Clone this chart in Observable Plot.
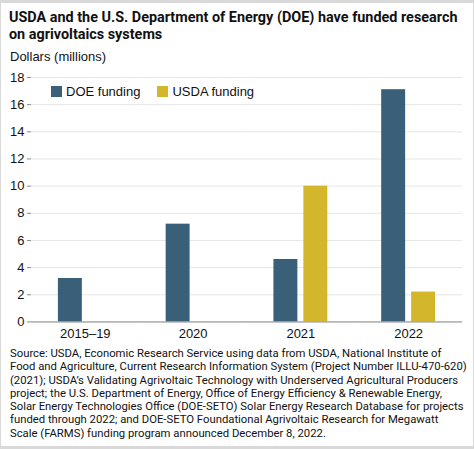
<!DOCTYPE html>
<html>
<head>
<meta charset="utf-8">
<script src="https://cdn.jsdelivr.net/npm/d3@7"></script>
<script src="https://cdn.jsdelivr.net/npm/@observablehq/plot@0.6"></script>
<style>
  html, body { margin: 0; padding: 0; background: #d9d9d9; }
  #frame { position: absolute; left: 1px; top: 3px; width: 472px; height: 443px; background: #fff; overflow: hidden; font-family: "Liberation Sans", Arial, sans-serif; color: #111; }
  #title { position: absolute; left: 8px; top: 6px; font-family: Roboto, sans-serif; font-weight: bold; font-size: 14.4px; line-height: 17px; white-space: nowrap; }
  #subtitle { position: absolute; left: 9px; top: 46px; font-size: 13px; }
  #chart { position: absolute; left: -1px; top: 61px; }
  #legend { position: absolute; left: 50px; top: 81px; font-size: 13px; display: flex; align-items: center; }
  #legend .sw { display: inline-block; width: 11px; height: 11px; margin-right: 4px; }
  #legend .item { display: flex; align-items: center; margin-right: 17px; }
  #caption { position: absolute; left: 9px; top: 344px; font-family: Roboto, sans-serif; font-size: 11.3px; line-height: 13.3px; white-space: nowrap; }
</style>
</head>
<body>
<div id="frame">
  <div id="title"></div>
  <div id="subtitle"></div>
  <div id="chart"></div>
  <div id="legend"></div>
  <div id="caption"></div>
</div>
<script>
const titleLines = [
  "USDA and the U.S. Department of Energy (DOE) have funded research",
  "on agrivoltaics systems"
];
const subtitleText = "Dollars (millions)";
const captionLines = [
  "Source: USDA, Economic Research Service using data from USDA, National Institute of",
  "Food and Agriculture, Current Research Information System (Project Number ILLU-470-620)",
  "(2021); USDA\u2019s Validating Agrivoltaic Technology with Underserved Agricultural Producers",
  "project; the U.S. Department of Energy, Office of Energy Efficiency & Renewable Energy,",
  "Solar Energy Technologies Office (DOE-SETO) Solar Energy Research Database for projects",
  "funded through 2022; and DOE-SETO Foundational Agrivoltaic Research for Megawatt",
  "Scale (FARMS) funding program announced December 8, 2022."
];

const periods = ["2015\u201319", "2020", "2021", "2022"];
const series = ["DOE funding", "USDA funding"];
const colors = ["#3a5f78", "#d4b62c"];
const doeValues = [3.2, 7.2, 4.6, 17.1];
const usdaValues = [0, 0, 10.0, 2.2];
const yTicks = [0, 2, 4, 6, 8, 10, 12, 14, 16, 18];

const data = [];
periods.forEach((p, i) => {
  data.push({period: p, series: series[0], value: doeValues[i]});
  data.push({period: p, series: series[1], value: usdaValues[i]});
});

function fillLines(id, lines) {
  const el = document.getElementById(id);
  lines.forEach(l => {
    const d = document.createElement("div");
    d.textContent = l;
    el.appendChild(d);
  });
}
fillLines("title", titleLines);
document.getElementById("subtitle").textContent = subtitleText;
fillLines("caption", captionLines);

const legend = document.getElementById("legend");
series.forEach((s, i) => {
  const item = document.createElement("span");
  item.className = "item";
  const sw = document.createElement("span");
  sw.className = "sw";
  sw.style.background = colors[i];
  item.appendChild(sw);
  item.appendChild(document.createTextNode(s));
  legend.appendChild(item);
});

const chart = Plot.plot({
  width: 474,
  height: 284,
  marginLeft: 29,
  marginRight: 10,
  marginTop: 13,
  marginBottom: 26,
  style: {fontFamily: "Liberation Sans, Arial, sans-serif", fontSize: "13px", color: "#111", background: "transparent"},
  fx: {domain: periods, padding: 0, label: null},
  x: {domain: series, paddingInner: 0.206, paddingOuter: 0.873, axis: null},
  y: {domain: [0, 18], label: null},
  color: {domain: series, range: colors},
  marks: [
    Plot.gridY(yTicks, {stroke: "#e6e6e6", strokeOpacity: 1}),
    Plot.barY(data.filter(d => d.value > 0), {fx: "period", x: "series", y: "value", fill: "series"}),
    Plot.ruleY([0], {stroke: "#8a8a8a", strokeWidth: 1}),
    Plot.axisY(yTicks, {tickSize: 4, tickPadding: 3, stroke: "#8a8a8a", line: true, label: null, fill: "#111"}),
    Plot.axisFx({anchor: "bottom", tickSize: 0, tickPadding: 7, label: null, fill: "#111"})
  ]
});
document.getElementById("chart").appendChild(chart);
</script>
</body>
</html>
